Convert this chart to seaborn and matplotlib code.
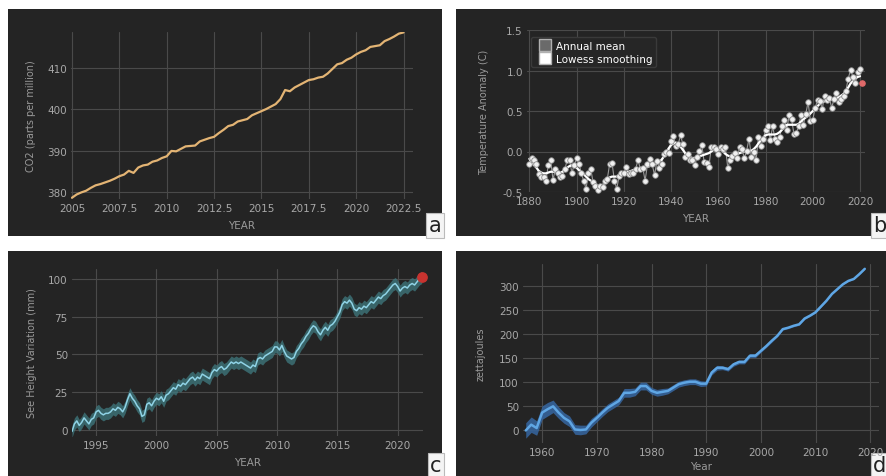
import numpy as np
import pandas as pd
import matplotlib
matplotlib.use("Agg")
import matplotlib.pyplot as plt
from matplotlib.lines import Line2D
import seaborn as sns

# ---- data ----
# a: CO2, quarterly from 2005.0
co2_ppm = [378.6, 379.4, 379.9, 380.3, 381.0, 381.6, 381.9, 382.3, 382.7, 383.2,
           383.8, 384.2, 385.1, 384.6, 385.9, 386.4, 386.6, 387.3, 387.6, 388.2,
           388.6, 389.9, 389.8, 390.4, 391.0, 391.1, 391.2, 392.2, 392.6, 393.0,
           393.3, 394.2, 395.0, 395.9, 396.2, 397.0, 397.3, 397.6, 398.5, 399.0,
           399.5, 400.0, 400.6, 401.2, 402.4, 404.6, 404.3, 405.2, 405.8, 406.4,
           407.0, 407.2, 407.6, 407.8, 408.6, 409.7, 410.8, 411.1, 411.9, 412.4,
           413.2, 413.8, 414.2, 415.0, 415.2, 415.4, 416.4, 416.9, 417.5, 418.2,
           418.5]
co2_xticks = [2005, 2007.5, 2010, 2012.5, 2015, 2017.5, 2020, 2022.5]
co2_xlabels = ["2005", "2007.5", "2010", "2012.5", "2015", "2017.5", "2020", "2022.5"]
co2_yticks = [380, 390, 400, 410]

# b: temperature anomaly, annual from 1880
temp_annual = [-0.16, -0.08, -0.10, -0.16, -0.28, -0.32, -0.31, -0.36, -0.17, -0.10,
               -0.35, -0.22, -0.27, -0.31, -0.30, -0.22, -0.11, -0.11, -0.26, -0.17,
               -0.08, -0.15, -0.27, -0.36, -0.46, -0.26, -0.22, -0.38, -0.42, -0.48,
               -0.43, -0.44, -0.36, -0.34, -0.15, -0.14, -0.36, -0.46, -0.30, -0.27,
               -0.27, -0.19, -0.28, -0.26, -0.27, -0.22, -0.10, -0.22, -0.20, -0.36,
               -0.16, -0.09, -0.16, -0.29, -0.12, -0.20, -0.15, -0.03, -0.01, -0.02,
               0.13, 0.19, 0.07, 0.09, 0.20, 0.09, -0.07, -0.03, -0.11, -0.11,
               -0.17, -0.07, 0.01, 0.08, -0.13, -0.14, -0.19, 0.05, 0.06, 0.03,
               -0.03, 0.06, 0.03, 0.05, -0.20, -0.11, -0.06, -0.02, -0.08, 0.05,
               0.03, -0.08, 0.01, 0.16, -0.07, -0.01, -0.10, 0.18, 0.07, 0.16,
               0.26, 0.32, 0.14, 0.31, 0.16, 0.12, 0.18, 0.32, 0.39, 0.27,
               0.45, 0.40, 0.22, 0.23, 0.31, 0.45, 0.33, 0.46, 0.61, 0.38,
               0.39, 0.54, 0.63, 0.62, 0.53, 0.68, 0.64, 0.66, 0.54, 0.65,
               0.72, 0.61, 0.65, 0.68, 0.75, 0.90, 1.01, 0.92, 0.85, 0.98,
               1.02]
temp_lowess = [-0.09, -0.13, -0.17, -0.20, -0.24, -0.26, -0.27, -0.27, -0.26, -0.25,
               -0.25, -0.25, -0.26, -0.26, -0.25, -0.22, -0.20, -0.18, -0.17, -0.18,
               -0.20, -0.23, -0.26, -0.28, -0.31, -0.34, -0.36, -0.37, -0.40, -0.42,
               -0.43, -0.42, -0.38, -0.35, -0.32, -0.31, -0.31, -0.31, -0.30, -0.29,
               -0.27, -0.26, -0.25, -0.24, -0.23, -0.22, -0.22, -0.21, -0.20, -0.19,
               -0.19, -0.18, -0.17, -0.16, -0.14, -0.13, -0.10, -0.06, -0.01, 0.04,
               0.08, 0.10, 0.11, 0.10, 0.06, 0.02, -0.02, -0.05, -0.07, -0.08,
               -0.08, -0.07, -0.06, -0.05, -0.04, -0.03, -0.02, 0.00, 0.02, 0.03,
               0.03, 0.02, 0.00, -0.03, -0.05, -0.06, -0.05, -0.04, -0.03, -0.02,
               -0.01, 0.00, 0.00, 0.00, 0.01, 0.03, 0.06, 0.10, 0.14, 0.17,
               0.20, 0.21, 0.21, 0.21, 0.21, 0.22, 0.24, 0.27, 0.30, 0.33,
               0.33, 0.33, 0.33, 0.33, 0.34, 0.37, 0.40, 0.42, 0.44, 0.47,
               0.50, 0.53, 0.56, 0.59, 0.61, 0.62, 0.63, 0.64, 0.64, 0.65,
               0.66, 0.67, 0.69, 0.71, 0.75, 0.79, 0.84, 0.87, 0.90, 0.92,
               0.93]
temp_last_year = [2021]
temp_last_value = [0.85]
temp_xticks = [1880, 1900, 1920, 1940, 1960, 1980, 2000, 2020]
temp_yticks = [-0.5, 0.0, 0.5, 1.0, 1.5]
temp_ylabels = ["-0.5", "0.0", "0.5", "1.0", "1.5"]

# c: sea height, every 0.2 year from 1993.0
sea_mm = [-1, 4, 6, 3, 5, 8, 6, 4, 7, 8,
          12, 13, 11, 10, 11, 11, 12, 14, 13, 15,
          14, 12, 15, 20, 24, 21, 19, 16, 14, 9,
          10, 17, 18, 16, 19, 21, 20, 22, 19, 23,
          24, 26, 28, 27, 30, 29, 31, 30, 32, 34,
          35, 33, 35, 34, 37, 36, 35, 34, 38, 40,
          39, 41, 42, 40, 41, 43, 45, 44, 45, 44,
          45, 44, 43, 42, 41, 43, 42, 47, 48, 47,
          49, 50, 51, 52, 55, 55, 53, 56, 52, 49,
          48, 47, 48, 52, 54, 57, 59, 62, 64, 67,
          69, 68, 65, 63, 66, 68, 66, 69, 70, 72,
          75, 78, 83, 85, 84, 86, 84, 80, 79, 81,
          80, 82, 81, 83, 85, 84, 86, 88, 87, 89,
          90, 92, 94, 96, 97, 95, 92, 94, 95, 94,
          96, 97, 96, 98, 100, 101]
sea_band_mm = 4
sea_last_year = [2022.0]
sea_last_value = [101]
sea_xticks = [1995, 2000, 2005, 2010, 2015, 2020]
sea_yticks = [0, 25, 50, 75, 100]

# d: ocean heat content, annual from 1957
ohc_zj = [0, 12, 5, 37, 44, 50, 37, 26, 19, 2,
          1, 2, 16, 26, 37, 47, 54, 61, 78, 78,
          80, 92, 92, 82, 78, 80, 82, 89, 96, 99,
          101, 101, 97, 97, 120, 130, 130, 127, 137, 142,
          142, 155, 155, 165, 175, 186, 196, 210, 213, 217,
          220, 232, 238, 245, 257, 269, 283, 293, 303, 310,
          314, 324, 335]
ohc_err = [16, 16, 15, 14, 14, 13, 12, 11, 11, 10,
           10, 9, 9, 8, 8, 8, 8, 8, 9, 9,
           8, 8, 8, 7, 7, 7, 6, 6, 6, 6,
           6, 6, 6, 5, 5, 5, 4, 4, 4, 4,
           4, 4, 4, 3, 3, 3, 2, 2, 2, 2,
           2, 2, 1.5, 1.5, 1.5, 1.5, 1, 1, 1, 1,
           1, 1, 1]
ohc_xticks = [1960, 1970, 1980, 1990, 2000, 2010, 2020]
ohc_yticks = [0, 50, 100, 150, 200, 250, 300]

# ---- build frames ----
df_co2 = pd.DataFrame({"year": 2005 + 0.25 * np.arange(len(co2_ppm)), "ppm": co2_ppm})
df_temp = pd.DataFrame({"year": 1880 + np.arange(len(temp_annual)), "anom": temp_annual})
df_low = pd.DataFrame({"year": 1880 + np.arange(len(temp_lowess)), "anom": temp_lowess})
df_sea = pd.DataFrame({"year": 1993 + 0.2 * np.arange(len(sea_mm)), "mm": sea_mm})
df_ohc = pd.DataFrame({"year": 1957 + np.arange(len(ohc_zj)), "zj": ohc_zj,
                       "err": ohc_err})

# ---- style ----
sns.set_style("dark")
plt.rcParams["font.family"] = ["DejaVu Sans"]
BG = "#242424"
GRID = "#4a4a4a"
TICK = "#a8a8a8"
LAB = "#9a9a9a"

W, H = 887, 477
fig = plt.figure(figsize=(W / 100, H / 100), dpi=100)
fig.patch.set_facecolor("white")


def px_axes(x0, y0, x1, y1, **kw):
    # pixel box (top-left origin) -> figure axes
    return fig.add_axes([x0 / W, 1 - y1 / H, (x1 - x0) / W, (y1 - y0) / H], **kw)


def panel_bg(x0, y0, x1, y1, letter):
    bg = px_axes(x0, y0, x1, y1)
    bg.set_facecolor(BG)
    bg.set_xticks([])
    bg.set_yticks([])
    for s in bg.spines.values():
        s.set_visible(False)
    bg.text(0.999, 0.003, letter, transform=bg.transAxes, ha="right", va="bottom",
            fontsize=15, color="#222222",
            bbox=dict(boxstyle="square,pad=0.12", facecolor="#f4f4f4",
                      edgecolor="#bbbbbb", linewidth=0.8))
    return bg


def style_ax(ax):
    ax.set_facecolor(BG)
    ax.grid(True, color=GRID, linewidth=0.8)
    ax.tick_params(colors=TICK, labelsize=7.5, length=0, pad=3)
    for s in ax.spines.values():
        s.set_visible(False)
    ax.set_zorder(2)


panel_bg(8, 10, 442, 237, "a")
panel_bg(456, 10, 887, 237, "b")
panel_bg(8, 252, 442, 477, "c")
panel_bg(456, 252, 887, 477, "d")

# ---- a: CO2 ----
ax = px_axes(71, 33, 413, 200)
style_ax(ax)
sns.lineplot(data=df_co2, x="year", y="ppm", ax=ax, color="#e3b474", linewidth=1.6)
ax.set_xlim(2004.95, 2023.0)
ax.set_ylim(378.3, 418.6)
ax.set_xticks(co2_xticks)
ax.set_xticklabels(co2_xlabels)
ax.set_yticks(co2_yticks)
ax.set_xlabel("YEAR", color=LAB, fontsize=7.5, labelpad=5)
ax.set_ylabel("CO2 (parts per million)", color=LAB, fontsize=7, labelpad=8)

# ---- b: temperature ----
ax = px_axes(527, 31, 865, 193)
style_ax(ax)
sns.lineplot(data=df_temp, x="year", y="anom", ax=ax, color="#9a9a9a", linewidth=0.8)
sns.scatterplot(data=df_temp, x="year", y="anom", ax=ax, color="#f0f0f0", s=16,
                edgecolor="#8a8a8a", linewidth=0.6, zorder=3, clip_on=False)
sns.lineplot(data=df_low, x="year", y="anom", ax=ax, color="white", linewidth=1.6)
ax.scatter(temp_last_year, temp_last_value, s=14, color="#e06a6a", zorder=4)
ax.set_xlim(1879, 2022.1)
ax.set_ylim(-0.5, 1.5)
ax.set_xticks(temp_xticks)
ax.set_yticks(temp_yticks)
ax.set_yticklabels(temp_ylabels)
ax.set_xlabel("YEAR", color=LAB, fontsize=7.5, labelpad=5)
ax.set_ylabel("Temperature Anomaly (C)", color=LAB, fontsize=7, labelpad=10)
handles = [Line2D([], [], linestyle="none", marker="s", markersize=8,
                  markerfacecolor="#6a6a6a", markeredgecolor="#b0b0b0"),
           Line2D([], [], linestyle="none", marker="s", markersize=8,
                  markerfacecolor="white", markeredgecolor="#b0b0b0")]
leg = ax.legend(handles, ["Annual mean", "Lowess smoothing"], loc="upper left",
                bbox_to_anchor=(0.0, 0.98), fontsize=7.5, frameon=True,
                facecolor="#262626", edgecolor="#3a3a3a", framealpha=1,
                handletextpad=0.1, borderpad=0.3, labelspacing=0.3,
                borderaxespad=0.4)
for t in leg.get_texts():
    t.set_color("white")

# ---- c: sea height ----
ax = px_axes(72, 270, 423, 437)
style_ax(ax)
ax.fill_between(df_sea["year"], df_sea["mm"] - sea_band_mm, df_sea["mm"] + sea_band_mm,
                color="#3f7a80", alpha=0.75, linewidth=0, zorder=2)
sns.lineplot(data=df_sea, x="year", y="mm", ax=ax, color="#8fd3e6", linewidth=1.1)
ax.scatter(sea_last_year, sea_last_value, s=45, color="#c8332f", zorder=4, clip_on=False)
ax.set_xlim(1993, 2022.1)
ax.set_ylim(-4, 106.6)
ax.set_xticks(sea_xticks)
ax.set_yticks(sea_yticks)
ax.set_xlabel("YEAR", color=LAB, fontsize=7.5, labelpad=5)
ax.set_ylabel("See Height Variation (mm)", color=LAB, fontsize=7, labelpad=8)

# ---- d: ocean heat ----
ax = px_axes(523, 265, 879, 444)
style_ax(ax)
ax.fill_between(df_ohc["year"], df_ohc["zj"] - df_ohc["err"], df_ohc["zj"] + df_ohc["err"],
                color="#35639a", alpha=0.9, linewidth=0, zorder=2)
sns.lineplot(data=df_ohc, x="year", y="zj", ax=ax, color="#5fa6e4", linewidth=1.8)
ax.set_xlim(1956.5, 2021.6)
ax.set_ylim(-26, 345)
ax.set_xticks(ohc_xticks)
ax.set_yticks(ohc_yticks)
ax.set_xlabel("Year", color=LAB, fontsize=7.5, labelpad=3)
ax.set_ylabel("zettajoules", color=LAB, fontsize=7, labelpad=10)

fig.savefig("out.png", dpi=100, facecolor=fig.get_facecolor())
